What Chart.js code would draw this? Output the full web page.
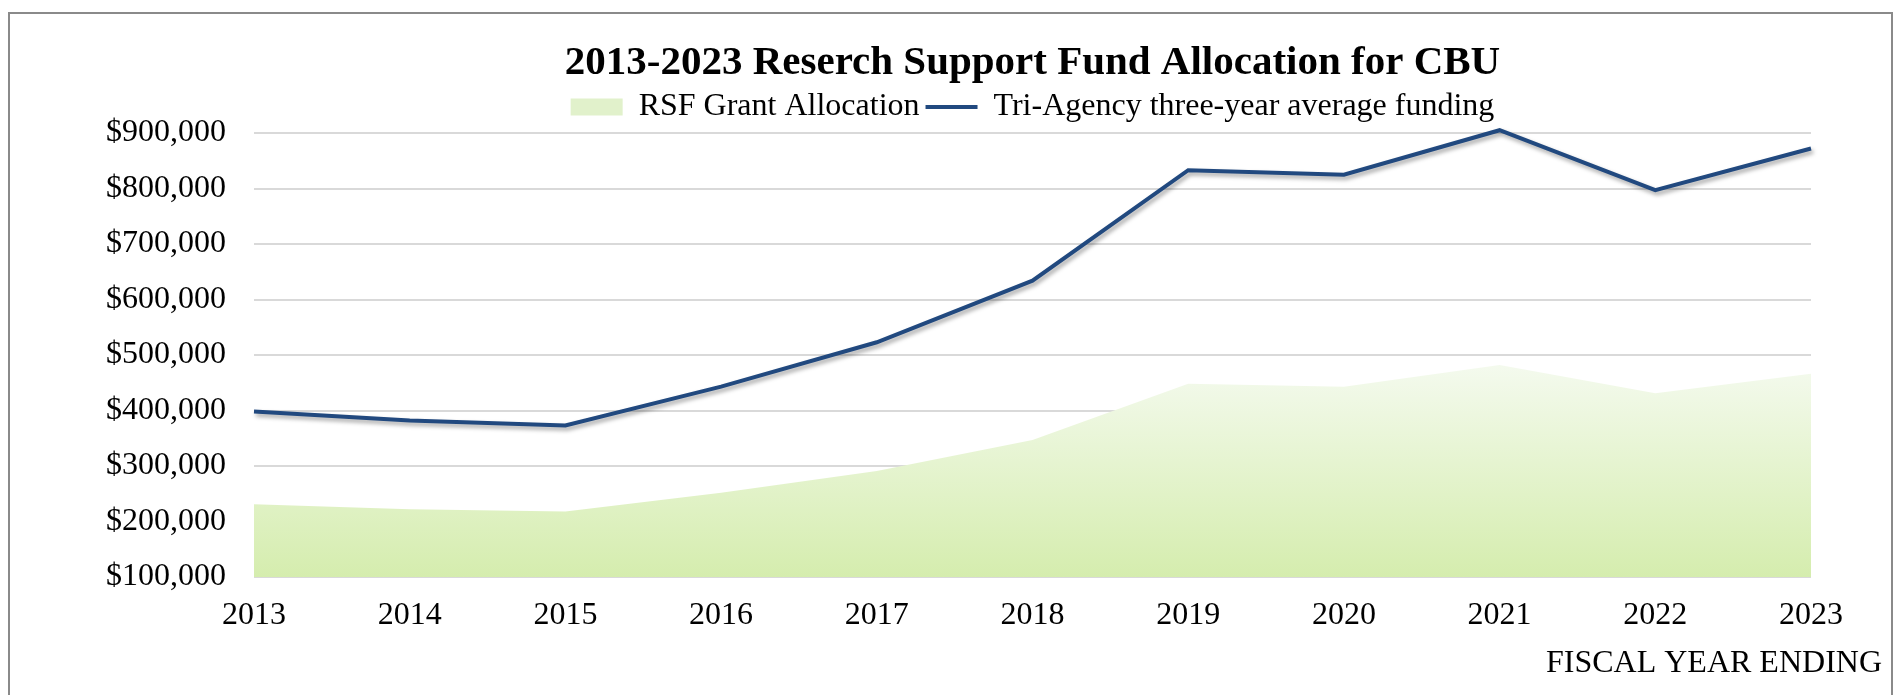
<!DOCTYPE html>
<html>
<head>
<meta charset="utf-8">
<title>2013-2023 Reserch Support Fund Allocation for CBU</title>
<script src="https://cdn.jsdelivr.net/npm/chart.js@4.4.1/dist/chart.umd.min.js"></script>
<style>
    html, body { margin: 0; padding: 0; background: #fff; overflow: hidden; }
    #wrap { position: relative; width: 1900px; height: 695px; }
    #frame {
        position: absolute; left: 8px; top: 12px; width: 1881px; height: 800px;
        border: 2px solid #8a8a8a; pointer-events: none;
    }
</style>
</head>
<body>
<div id="wrap">
    <canvas id="rsfChart" width="1900" height="695"></canvas>
    <div id="frame"></div>
</div>
<script>
// Dati
const years = ['2013', '2014', '2015', '2016', '2017', '2018', '2019', '2020', '2021', '2022', '2023'];
const rsfGrant = [231000, 222000, 218000, 252000, 291000, 347000, 448000, 443000, 482000, 431000, 466000];
const triAgency = [398000, 382000, 373000, 443000, 523000, 634000, 833000, 825000, 905000, 797000, 872000];

const yMin = 100000;
const yMax = 900000;
const yStep = 100000;

const chartTitle = '2013-2023 Reserch Support Fund Allocation for CBU';
const xAxisTitle = 'FISCAL YEAR ENDING';

const lineBlue = '#21497f';
const serif = "'Liberation Serif', 'Times New Roman', serif";

Chart.defaults.color = '#000';
Chart.defaults.font.family = serif;

// Ombra leggera sotto le serie (come in Excel)
const shadowPlugin = {
    id: 'shadow',
    beforeDatasetDraw(chart) {
        const ctx = chart.ctx;
        ctx.save();
        ctx.shadowColor = 'rgba(0, 0, 0, 0.35)';
        ctx.shadowBlur = 4;
        ctx.shadowOffsetX = 2;
        ctx.shadowOffsetY = 3;
    },
    afterDatasetDraw(chart) {
        chart.ctx.restore();
    }
};

// Titolo dell'asse X, allineato a destra sotto le etichette
const axisLabelPlugin = {
    id: 'axisLabel',
    afterDraw(chart) {
        const ctx = chart.ctx;
        const area = chart.chartArea;
        ctx.save();
        ctx.font = '32px ' + serif;
        ctx.fillStyle = '#000';
        ctx.textAlign = 'right';
        ctx.textBaseline = 'alphabetic';
        ctx.fillText(xAxisTitle, area.right + 71, area.bottom + 95);
        ctx.restore();
    }
};

// Sfumatura verde dell'area, calcolata dai valori
function areaGradient(context) {
    const chart = context.chart;
    const area = chart.chartArea;
    if (!area) return '#dff0c8';
    const top = chart.scales.y.getPixelForValue(Math.max(...rsfGrant));
    const g = chart.ctx.createLinearGradient(0, top, 0, area.bottom);
    g.addColorStop(0, '#f4faee');
    g.addColorStop(1, '#d5edae');
    return g;
}

const ctx = document.getElementById('rsfChart').getContext('2d');

new Chart(ctx, {
    type: 'line',
    data: {
        labels: years,
        datasets: [
            {
                label: 'RSF Grant Allocation',
                data: rsfGrant,
                fill: 'start',
                backgroundColor: areaGradient,
                borderWidth: 0,
                pointRadius: 0,
                tension: 0,
                clip: false,
                order: 2
            },
            {
                label: 'Tri-Agency three-year average funding',
                data: triAgency,
                fill: false,
                borderColor: lineBlue,
                borderWidth: 4,
                pointRadius: 0,
                tension: 0,
                clip: false,
                order: 1
            }
        ]
    },
    options: {
        responsive: false,
        animation: false,
        layout: {
            padding: { left: 106, right: 89, top: 11, bottom: 58 }
        },
        plugins: {
            tooltip: { enabled: false },
            title: {
                display: true,
                fullSize: false, // centrato sopra l'area del grafico
                text: chartTitle,
                color: '#000',
                font: { family: serif, size: 41, weight: 'bold', lineHeight: 1.0 },
                padding: { top: 32, bottom: 1 }
            },
            legend: {
                display: true,
                fullSize: false,
                position: 'top',
                labels: {
                    usePointStyle: true,
                    pointStyleWidth: 52,
                    boxHeight: 17,
                    padding: 6,
                    color: '#000',
                    font: { family: serif, size: 32 },
                    generateLabels: () => [
                        {
                            text: 'RSF Grant Allocation',
                            pointStyle: 'rect',
                            fillStyle: '#e1f1cb',
                            strokeStyle: 'rgba(0,0,0,0)',
                            lineWidth: 0,
                            hidden: false,
                            datasetIndex: 0
                        },
                        {
                            text: 'Tri-Agency three-year average funding',
                            pointStyle: 'line',
                            fillStyle: lineBlue,
                            strokeStyle: lineBlue,
                            lineWidth: 4,
                            hidden: false,
                            datasetIndex: 1
                        }
                    ]
                }
            }
        },
        scales: {
            x: {
                type: 'category',
                offset: false,
                grid: { display: false, drawTicks: false },
                border: { display: false },
                ticks: {
                    padding: 19,
                    maxRotation: 0,
                    autoSkip: false,
                    font: { family: serif, size: 32 }
                },
                afterFit(scale) { scale.height = 60; }
            },
            y: {
                min: yMin,
                max: yMax,
                grid: { color: '#d9d9d9', lineWidth: 2, drawTicks: false },
                border: { display: false },
                ticks: {
                    stepSize: yStep,
                    padding: 28,
                    font: { family: serif, size: 32 },
                    callback: v => '$' + v.toLocaleString('en-US')
                },
                afterFit(scale) { scale.width = 148; }
            }
        }
    },
    plugins: [shadowPlugin, axisLabelPlugin]
});
</script>
</body>
</html>
